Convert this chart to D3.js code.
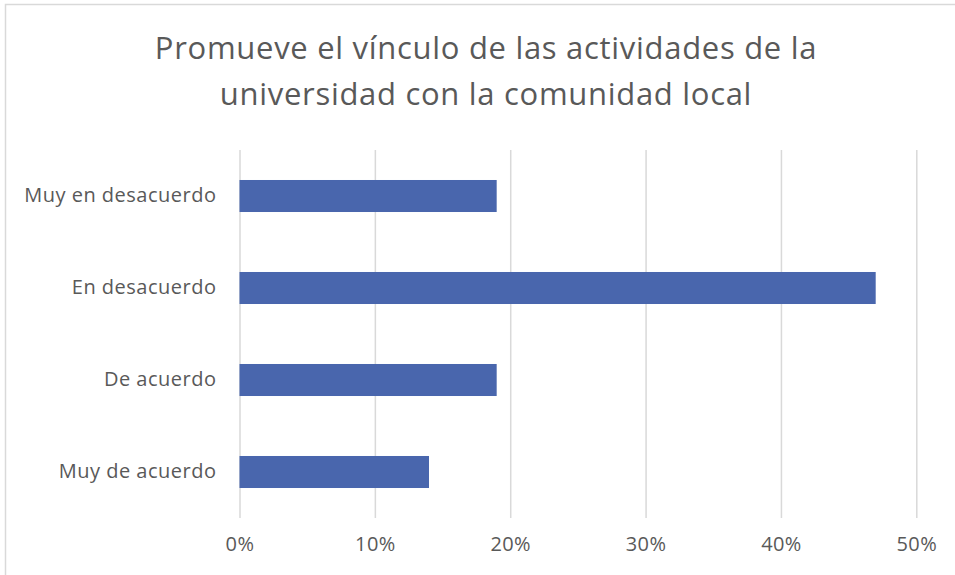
<!DOCTYPE html>
<html>
<head>
<meta charset="utf-8">
<script src="https://cdn.jsdelivr.net/npm/d3@7"></script>
<style>
  body { margin: 0; background: #fff; }
  svg text { font-family: "Open Sans", "Noto Sans", sans-serif; fill: #595959; }
</style>
</head>
<body>
<svg id="chart" width="955" height="575"></svg>
<script>
// data
var titleLines = ["Promueve el vínculo de las actividades de la", "universidad con la comunidad local"];
var categories = ["Muy en desacuerdo", "En desacuerdo", "De acuerdo", "Muy de acuerdo"];
var values = [0.19, 0.47, 0.19, 0.14];
var xTicks = [0, 0.1, 0.2, 0.3, 0.4, 0.5];

var svg = d3.select("#chart");
var barColor = "#4966ad";

// chart frame (only top/left edges fall inside the picture)
svg.append("rect")
  .attr("x", 5.5).attr("y", 4.5)
  .attr("width", 960).attr("height", 600)
  .attr("fill", "#fff")
  .attr("stroke", "#d9d9d9")
  .attr("stroke-width", 1.5);

var x = d3.scaleLinear().domain([0, 0.5]).range([239.5, 916.3]);
var y = d3.scaleBand().domain(categories).range([150, 518])
  .paddingInner(0.652).paddingOuter(0.326);

// title
svg.append("g").selectAll("text")
  .data(titleLines)
  .enter().append("text")
  .attr("x", 486)
  .attr("y", (d, i) => 59 + i * 46)
  .attr("text-anchor", "middle")
  .style("font-size", "31px")
  .style("letter-spacing", "0.7px")
  .text(d => d);

// gridlines
svg.append("g")
  .attr("transform", "translate(0,518)")
  .call(d3.axisBottom(x).tickValues(xTicks).tickSize(-368).tickFormat(""))
  .call(g => g.select(".domain").remove())
  .call(g => g.selectAll(".tick line").attr("stroke", "#d9d9d9").attr("stroke-width", 1.5));

// bars
svg.append("g").selectAll("rect")
  .data(values)
  .enter().append("rect")
  .attr("x", x(0))
  .attr("y", (d, i) => y(categories[i]))
  .attr("width", d => x(d) - x(0))
  .attr("height", y.bandwidth())
  .attr("fill", barColor);

// x tick labels
svg.append("g")
  .attr("transform", "translate(0,518)")
  .call(d3.axisBottom(x).tickValues(xTicks).tickSize(0).tickPadding(19).tickFormat(d3.format(".0%")))
  .call(g => g.select(".domain").remove())
  .call(g => g.selectAll("text").style("font-size", "20px").style("letter-spacing", "0.4px").style("fill", "#595959"));

// category labels
svg.append("g")
  .attr("transform", "translate(239.5,0)")
  .call(d3.axisLeft(y).tickSize(0).tickPadding(23))
  .call(g => g.select(".domain").remove())
  .call(g => g.selectAll("text").style("font-size", "20px").style("letter-spacing", "0.5px").style("fill", "#595959"));
</script>
</body>
</html>
